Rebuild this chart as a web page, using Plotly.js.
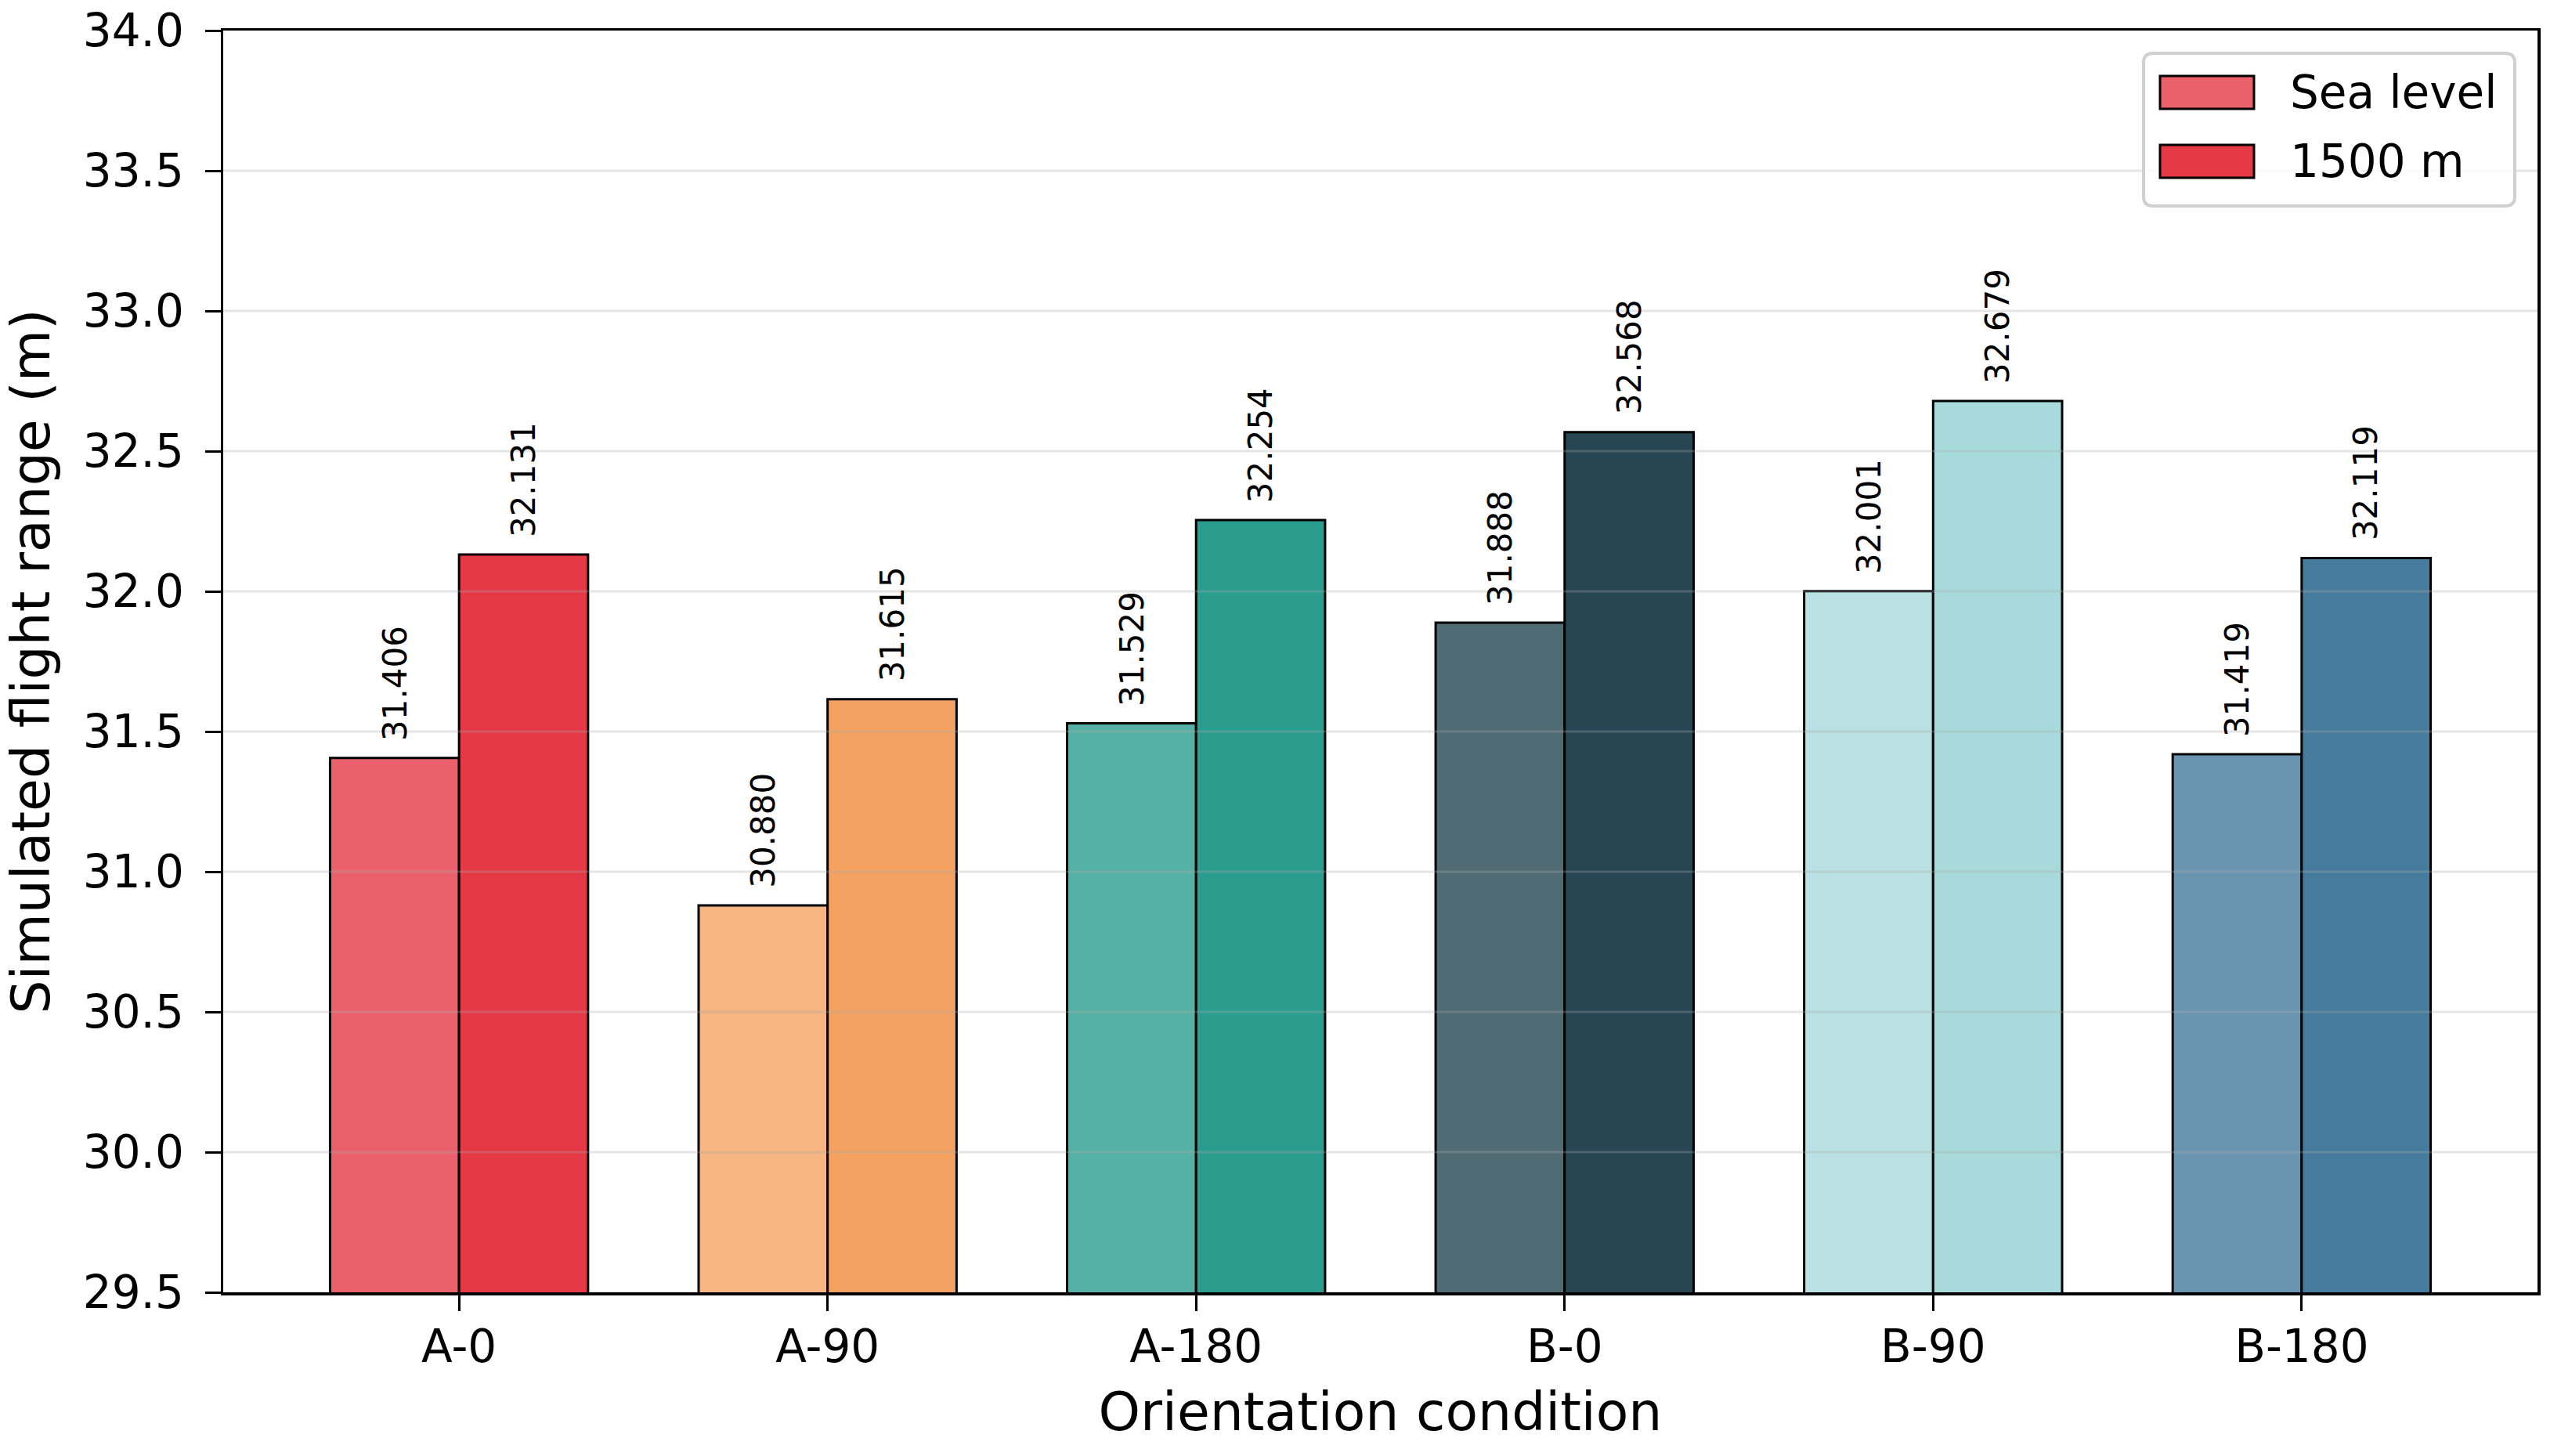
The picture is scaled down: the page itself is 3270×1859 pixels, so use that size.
<!DOCTYPE html>
<html>
<head>
<meta charset="utf-8">
<script src="https://cdn.plot.ly/plotly-3.0.1.min.js"></script>
<style>
  html, body { margin: 0; padding: 0; background: #fff; }
  #graph { width: 3270px; height: 1859px; }
</style>
</head>
<body>
<div id="graph"></div>
<script>
// orientation conditions on the x axis
var conditions = ['A-0', 'A-90', 'A-180', 'B-0', 'B-90', 'B-180']

// simulated flight range (m)
var seaLevel = [31.406, 30.880, 31.529, 31.888, 32.001, 31.419]
var alt1500 = [32.131, 31.615, 32.254, 32.568, 32.679, 32.119]
var seriesNames = ['Sea level', '1500 m']

// one base colour per condition, the sea level bar is a lighter tint
var darkColors = ['#e63946', '#f4a261', '#2a9d8f', '#264653', '#a8dadc', '#457b9d']
var lightColors = ['#eb616b', '#f6b581', '#55b1a5', '#516b75', '#b9e1e3', '#6a95b1']

var yTicks = [29.5, 30.0, 30.5, 31.0, 31.5, 32.0, 32.5, 33.0, 33.5, 34.0]

var W = 3270, H = 1859
var M = {l: 285, r: 30, t: 39, b: 209}
var font = 'DejaVu Sans, Liberation Sans, sans-serif'
var half = 0.175  // half of one bar, in category units

// page pixel -> paper coords, used for the hand drawn legend box
function px(X) { return (X - M.l) / (W - M.l - M.r) }
function py(Y) { return 1 - (Y - M.t) / (H - M.t - M.b) }

var traceSea = {
    x: conditions,
    y: seaLevel,
    name: seriesNames[0],
    type: 'bar',
    marker: {color: lightColors, line: {color: '#000', width: 3}},
    hoverinfo: 'x+y'
}

var trace1500 = {
    x: conditions,
    y: alt1500,
    name: seriesNames[1],
    type: 'bar',
    marker: {color: darkColors, line: {color: '#000', width: 3}},
    hoverinfo: 'x+y'
}

// value labels above each bar
var annotations = []
function addLabels(vals, shift) {
    for (var i = 0; i < vals.length; i++) {
        annotations.push({
            x: i + shift,
            y: vals[i],
            xref: 'x',
            yref: 'y',
            text: vals[i].toFixed(3),
            textangle: -90,
            showarrow: false,
            xanchor: 'center',
            yanchor: 'bottom',
            yshift: 20,
            font: {family: font, size: 42, color: '#000'}
        })
    }
}
addLabels(seaLevel, -half)
addLabels(alt1500, half)

// light grid drawn over the bars, like the original
var shapes = []
for (var k = 1; k < yTicks.length - 1; k++) {
    shapes.push({
        type: 'line',
        xref: 'paper',
        yref: 'y',
        x0: 0, x1: 1,
        y0: yTicks[k], y1: yTicks[k],
        line: {color: 'rgba(170,170,170,0.3)', width: 3},
        layer: 'above'
    })
}

// legend: rounded box with wide swatches
var bx0 = px(2737), bx1 = px(3211), by0 = py(263), by1 = py(68)
var rx = px(M.l + 12), ry = 1 - py(M.t + 12)
shapes.push({
    type: 'path',
    xref: 'paper', yref: 'paper',
    path: 'M' + (bx0 + rx) + ',' + by1 +
          ' L' + (bx1 - rx) + ',' + by1 + ' Q' + bx1 + ',' + by1 + ' ' + bx1 + ',' + (by1 - ry) +
          ' L' + bx1 + ',' + (by0 + ry) + ' Q' + bx1 + ',' + by0 + ' ' + (bx1 - rx) + ',' + by0 +
          ' L' + (bx0 + rx) + ',' + by0 + ' Q' + bx0 + ',' + by0 + ' ' + bx0 + ',' + (by0 + ry) +
          ' L' + bx0 + ',' + (by1 - ry) + ' Q' + bx0 + ',' + by1 + ' ' + (bx0 + rx) + ',' + by1 + ' Z',
    fillcolor: 'rgba(255,255,255,0.8)',
    line: {color: '#d0d0d0', width: 4},
    layer: 'above'
})
var swatchFill = [lightColors[0], darkColors[0]]
var rowTop = [97, 185]
for (var s = 0; s < seriesNames.length; s++) {
    shapes.push({
        type: 'rect',
        xref: 'paper', yref: 'paper',
        x0: px(2758), x1: px(2878),
        y0: py(rowTop[s] + 42), y1: py(rowTop[s]),
        fillcolor: swatchFill[s],
        line: {color: '#000', width: 3},
        layer: 'above'
    })
    annotations.push({
        xref: 'paper', yref: 'paper',
        x: px(2922), y: py(rowTop[s] + 21),
        xanchor: 'left', yanchor: 'middle',
        text: seriesNames[s],
        showarrow: false,
        font: {family: font, size: 58, color: '#000'}
    })
}

var layout = {
    width: W,
    height: H,
    paper_bgcolor: '#fff',
    plot_bgcolor: '#fff',
    margin: M,
    font: {family: font, size: 58, color: '#000'},
    barmode: 'group',
    bargap: 0.3,
    bargroupgap: 0,
    showlegend: false,
    xaxis: {
        type: 'category',
        range: [-0.64, 5.64],
        showline: true, mirror: true,
        linecolor: '#000', linewidth: 3.5,
        ticks: 'outside', ticklen: 20, tickwidth: 3, tickcolor: '#000',
        ticklabelstandoff: -4,
        showgrid: false,
        zeroline: false,
        tickfont: {family: font, size: 58, color: '#000'},
        title: {text: 'Orientation condition', standoff: 27,
                font: {family: font, size: 68, color: '#000'}},
        automargin: false
    },
    yaxis: {
        range: [29.5, 34.0],
        tickvals: yTicks,
        tickformat: '.1f',
        showline: true, mirror: true,
        linecolor: '#000', linewidth: 3.5,
        ticks: 'outside', ticklen: 20, tickwidth: 3, tickcolor: '#000',
        ticklabelstandoff: 15,
        showgrid: false,
        zeroline: false,
        tickfont: {family: font, size: 58, color: '#000'},
        title: {text: 'Simulated flight range (m)', standoff: 28,
                font: {family: font, size: 68, color: '#000'}},
        automargin: false
    },
    annotations: annotations,
    shapes: shapes
}

Plotly.newPlot('graph', [traceSea, trace1500], layout, {displayModeBar: false, staticPlot: true})
</script>
</body>
</html>
